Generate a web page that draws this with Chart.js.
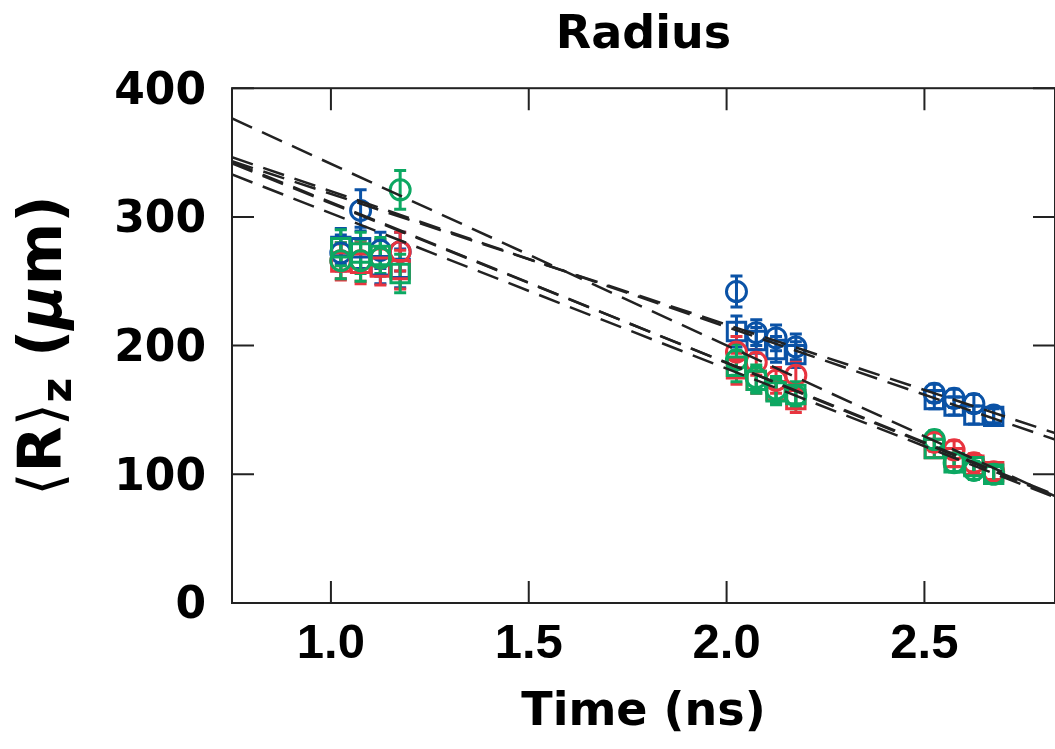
<!DOCTYPE html>
<html>
<head>
<meta charset="utf-8">
<script src="https://cdn.jsdelivr.net/npm/chart.js@4/dist/chart.umd.min.js"></script>
<style>
  html, body { margin: 0; padding: 0; background: #fff; overflow: hidden; }
  #wrap { width: 1055px; height: 749px; }
</style>
</head>
<body>
<div id="wrap"><canvas id="radius-chart"></canvas></div>
<script>
// measurement times (ns)
const times = [1.025, 1.075, 1.125, 1.175, 2.025, 2.075, 2.125, 2.175, 2.525, 2.575, 2.625, 2.675];

// <R>z values (um)
const blueCircle  = [272, 305, 274, 273, 242, 210, 206, 199, 163, 159, 155, 146];
const blueSquare  = [277, 276, 262, 260, 211, 204, 197, 193, 158, 153, 146, 145];
const redCircle   = [266, 266, 268, 273, 195, 187, 173, 177, 125, 119, 109, 102];
const redSquare   = [265, 264, 261, 259, 182, 173, 165, 158, 120, 113, 107, 102];
const greenCircle = [266, 266, 268, 321, 189, 175, 166, 161, 127, 109, 103, 100];
const greenSquare = [276, 272, 270, 256, 184, 173, 164, 162, 120, 109, 106, 100];

// error bar half-heights
const errCluster = [14, 16, 14, 15, 12, 10, 10, 10, 7, 7, 7, 6];

// dashed fit lines: value at left edge and right edge of the time axis
const fitTimes = [0.75, 2.83];
const fitStart = [376.5, 346.4, 343.3, 341.5, 342.5, 333];
const fitEnd   = [83, 127, 132, 84, 83, 82];

const xTicks = [1.0, 1.5, 2.0, 2.5];
const yTicks = [0, 100, 200, 300, 400];

const BLUE = '#0a52a6';
const RED = '#e8343f';
const GREEN = '#0ca862';
const FONT = '"DejaVu Sans", sans-serif';

function pts(vals) {
  return times.map((t, i) => ({ x: t, y: vals[i] }));
}

function series(vals, color, style) {
  return {
    data: pts(vals),
    errors: errCluster,
    borderColor: color,
    backgroundColor: 'rgba(0,0,0,0)',
    pointStyle: style,
    pointRadius: style === 'rect' ? 13 : 10,
    pointBorderWidth: 3,
    order: 1
  };
}

const fitSets = fitStart.map((v, i) => ({
  data: [{ x: fitTimes[0], y: v }, { x: fitTimes[1], y: fitEnd[i] }],
  showLine: true,
  borderColor: '#222',
  borderWidth: 2.5,
  borderDash: [22, 11],
  pointRadius: 0,
  order: 0
}));

// error bars go under the markers; drawn back to front like the datasets
const errorBars = {
  id: 'errorBars',
  beforeDatasetsDraw(chart) {
    const { ctx, scales: { x, y } } = chart;
    const sets = chart.data.datasets.slice().reverse();
    sets.forEach(ds => {
      if (!ds.errors) return;
      ctx.save();
      ctx.strokeStyle = ds.borderColor;
      ctx.lineWidth = 3;
      ds.data.forEach((p, j) => {
        const px = x.getPixelForValue(p.x);
        const top = y.getPixelForValue(p.y + ds.errors[j]);
        const bot = y.getPixelForValue(p.y - ds.errors[j]);
        ctx.beginPath();
        ctx.moveTo(px, top); ctx.lineTo(px, bot);
        ctx.moveTo(px - 6, top); ctx.lineTo(px + 6, top);
        ctx.moveTo(px - 6, bot); ctx.lineTo(px + 6, bot);
        ctx.stroke();
      });
      ctx.restore();
    });
  }
};

const frame = {
  id: 'frame',
  afterDatasetsDraw(chart) {
    const { ctx, chartArea: a, scales: { x, y } } = chart;
    const len = 22;
    ctx.save();
    ctx.strokeStyle = '#222';
    ctx.lineWidth = 2;
    ctx.strokeRect(a.left, a.top, a.right - a.left, a.bottom - a.top);
    ctx.beginPath();
    xTicks.forEach(v => {
      const px = x.getPixelForValue(v);
      ctx.moveTo(px, a.bottom); ctx.lineTo(px, a.bottom - len);
      ctx.moveTo(px, a.top); ctx.lineTo(px, a.top + len);
    });
    yTicks.forEach(v => {
      const py = y.getPixelForValue(v);
      ctx.moveTo(a.left, py); ctx.lineTo(a.left + len, py);
      ctx.moveTo(a.right, py); ctx.lineTo(a.right - len, py);
    });
    ctx.stroke();
    ctx.restore();
  }
};

// y axis title with subscript and italic mu
const yTitle = {
  id: 'yTitle',
  afterDraw(chart) {
    const { ctx, chartArea: a } = chart;
    const parts = [
      { t: '\u27E8', f: '60px ' + FONT, dy: 0 },
      { t: 'R', f: 'bold 60px ' + FONT, dy: 0 },
      { t: '\u27E9', f: '60px ' + FONT, dy: 0 },
      { t: 'z', f: 'bold 43px ' + FONT, dy: 15 },
      { t: ' (', f: 'bold 60px ' + FONT, dy: 0 },
      { t: '\u03BC', f: 'italic bold 60px ' + FONT, dy: 0 },
      { t: 'm)', f: 'bold 60px ' + FONT, dy: 0 }
    ];
    ctx.save();
    let total = 0;
    parts.forEach(p => { ctx.font = p.f; p.w = ctx.measureText(p.t).width; total += p.w; });
    ctx.translate(45, (a.top + a.bottom) / 2);
    ctx.rotate(-Math.PI / 2);
    ctx.fillStyle = '#000';
    ctx.textBaseline = 'middle';
    let cx = -total / 2;
    parts.forEach(p => {
      ctx.font = p.f;
      ctx.fillText(p.t, cx, p.dy);
      cx += p.w;
    });
    ctx.restore();
  }
};

new Chart(document.getElementById('radius-chart'), {
  type: 'scatter',
  data: {
    datasets: [
      series(greenSquare, GREEN, 'rect'),
      series(greenCircle, GREEN, 'circle'),
      series(redSquare, RED, 'rect'),
      series(redCircle, RED, 'circle'),
      series(blueSquare, BLUE, 'rect'),
      series(blueCircle, BLUE, 'circle'),
      ...fitSets
    ]
  },
  options: {
    responsive: true,
    maintainAspectRatio: false,
    animation: false,
    layout: { padding: 0, autoPadding: false },
    plugins: {
      legend: { display: false },
      tooltip: { enabled: false },
      title: {
        display: true,
        fullSize: false,
        text: 'Radius',
        color: '#000',
        font: { family: FONT, size: 46, weight: 'bold' },
        padding: { top: 8, bottom: 25 }
      }
    },
    scales: {
      x: {
        type: 'linear',
        min: 0.75,
        max: 2.83,
        grid: { display: false, drawTicks: false },
        border: { display: false },
        afterBuildTicks: s => { s.ticks = xTicks.map(v => ({ value: v })); },
        afterFit: s => { s.height = 146; s.paddingLeft = 0; s.paddingRight = 0; },
        ticks: {
          color: '#000',
          padding: 12,
          font: { family: '"Liberation Sans", Arial, sans-serif', size: 49, weight: 'bold' },
          callback: v => v.toFixed(1)
        },
        title: {
          display: true,
          text: 'Time (ns)',
          color: '#000',
          font: { family: FONT, size: 46, weight: 'bold' },
          padding: { top: 0, bottom: 8 }
        }
      },
      y: {
        min: 0,
        max: 400,
        grid: { display: false, drawTicks: false },
        border: { display: false },
        afterBuildTicks: s => { s.ticks = yTicks.map(v => ({ value: v })); },
        afterFit: s => { s.width = 232; },
        ticks: {
          color: '#000',
          padding: 26,
          labelOffset: 4,
          font: { family: FONT, size: 44, weight: 'bold' }
        }
      }
    }
  },
  plugins: [errorBars, frame, yTitle]
});
</script>
</body>
</html>
